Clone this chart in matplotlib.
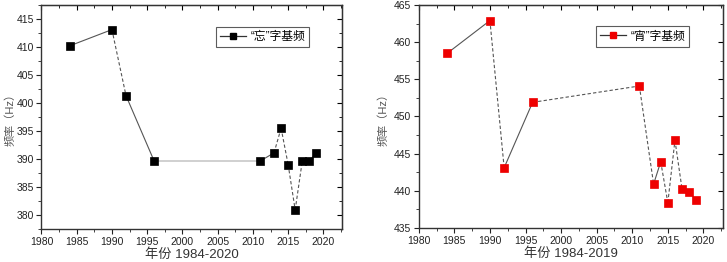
import matplotlib
matplotlib.use("Agg")
import matplotlib.pyplot as plt
from matplotlib.lines import Line2D
from matplotlib.ticker import MultipleLocator

plt.rcParams['font.family'] = ['Liberation Sans', 'Noto Sans CJK SC', 'DejaVu Sans']

# data
years_wang = [1984, 1990, 1992, 1996, 2011, 2013, 2014, 2015, 2016, 2017, 2018, 2019]
freq_wang = [410.2, 413.1, 401.3, 389.6, 389.6, 391.1, 395.5, 389.0, 380.9, 389.6, 389.6, 391.1]
years_xiao = [1984, 1990, 1992, 1996, 2011, 2013, 2014, 2015, 2016, 2017, 2018, 2019]
freq_xiao = [458.5, 462.9, 443.1, 451.9, 454.1, 440.9, 443.9, 438.4, 446.8, 440.2, 439.8, 438.7]

# how each segment between two points is drawn
seg_wang = ['-', '--', '-', 'light', '-', '--', '--', '--', '--', '-', '-']
seg_xiao = ['-', '--', '-', '--', '--', '-', '--', '--', '--', '--', '-']


def draw(ax, x, y, segs, color, label, xlabel, ylim, yticks, ylab_x):
    for i, s in enumerate(segs):
        if s == 'light':
            ax.plot(x[i:i + 2], y[i:i + 2], color='#d0d0d0', lw=1.4, zorder=1)
        else:
            ax.plot(x[i:i + 2], y[i:i + 2], color='#555555', lw=0.8,
                    ls='-' if s == '-' else (0, (3, 2)), zorder=1)
    ax.plot(x, y, ls='none', marker='s', ms=5.5, mfc=color,
            mec='black' if color == 'black' else color, mew=0.5, zorder=3)
    ax.set_xlim(1980, 2022.7)
    ax.set_ylim(*ylim)
    ax.xaxis.set_major_locator(MultipleLocator(5))
    ax.xaxis.set_minor_locator(MultipleLocator(2.5))
    ax.yaxis.set_major_locator(MultipleLocator(yticks))
    ax.yaxis.set_minor_locator(MultipleLocator(yticks / 2))
    ax.tick_params(which='both', direction='out', labelsize=7.5, colors='#222222', pad=2)
    ax.tick_params(which='major', length=3.5, width=0.8)
    ax.tick_params(which='minor', length=2, width=0.6)
    for sp in ax.spines.values():
        sp.set_color('#333333')
        sp.set_linewidth(1.0)
    # mirrored inward ticks on top and right
    top = ax.secondary_xaxis('top')
    top.xaxis.set_major_locator(MultipleLocator(5))
    top.xaxis.set_minor_locator(MultipleLocator(2.5))
    top.tick_params(which='both', direction='in', labeltop=False)
    top.tick_params(which='major', length=3.5)
    top.tick_params(which='minor', length=2)
    right = ax.secondary_yaxis('right')
    right.yaxis.set_major_locator(MultipleLocator(yticks))
    right.yaxis.set_minor_locator(MultipleLocator(yticks / 2))
    right.tick_params(which='both', direction='in', labelright=False)
    right.tick_params(which='major', length=3.5)
    right.tick_params(which='minor', length=2)

    ax.set_xlabel(xlabel, fontsize=9.5, color='#333333', labelpad=1)
    ax.set_ylabel('频率（Hz）', fontsize=8, color='#555555')
    ax.yaxis.set_label_coords(ylab_x, 0.5)
    handle = Line2D([], [], color='#333333', lw=0.9, marker='s', ms=5,
                    mfc=color, mec=color)
    leg = ax.legend([handle], [label], loc='upper right',
                    bbox_to_anchor=(0.91, 0.93), fontsize=8.5, frameon=True,
                    fancybox=False, edgecolor='#333333', handlelength=2.2,
                    borderpad=0.35, handletextpad=0.4)
    leg.get_frame().set_linewidth(0.8)


fig = plt.figure(figsize=(7.27, 2.62), dpi=100)
ax1 = fig.add_axes([0.057, 0.126, 0.414, 0.855])
ax2 = fig.add_axes([0.576, 0.13, 0.418, 0.851])

draw(ax1, years_wang, freq_wang, seg_wang, 'black', '“忘”字基频',
     '年份 1984-2020', (377.5, 417.5), 5, -0.085)
draw(ax2, years_xiao, freq_xiao, seg_xiao, '#ee0000', '“宵”字基频',
     '年份 1984-2019', (435, 465), 5, -0.1)

fig.savefig('out.png', dpi=100)
